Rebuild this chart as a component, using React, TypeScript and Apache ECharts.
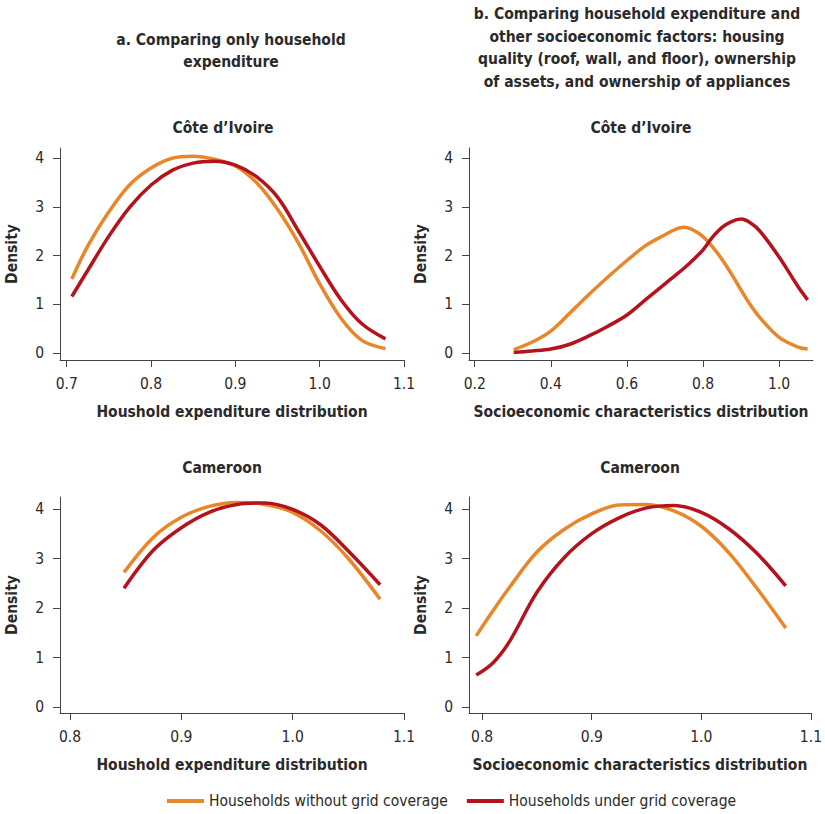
import React, { useEffect, useRef } from "react";
import * as echarts from "echarts";

const FONT = "'Liberation Sans Narrow', 'DejaVu Sans Condensed', 'Open Sans', sans-serif";
const TEXT = "#2a2a2a";
const AXIS = "#444444";
const ORANGE = "#E8862A";
const RED = "#B5121B";

const SERIES_NAMES = ["Households without grid coverage", "Households under grid coverage"];

// Panel a, Côte d'Ivoire (household expenditure)
const xCivExp = [0.706, 0.725, 0.75, 0.775, 0.8, 0.825, 0.85, 0.875, 0.9, 0.925, 0.95, 0.975, 1.0, 1.025, 1.05, 1.078];
const civExpWithout = [1.52, 2.2, 2.9, 3.46, 3.8, 4.0, 4.04, 3.98, 3.84, 3.5, 2.95, 2.25, 1.42, 0.72, 0.26, 0.09];
const civExpUnder = [1.16, 1.7, 2.4, 3.0, 3.45, 3.75, 3.9, 3.94, 3.86, 3.62, 3.2, 2.5, 1.78, 1.1, 0.6, 0.29];

// Panel b, Côte d'Ivoire (socioeconomic characteristics)
const xCivSoc = [0.3025, 0.35, 0.4, 0.45, 0.5, 0.55, 0.6, 0.65, 0.7, 0.725, 0.75, 0.775, 0.8, 0.825, 0.85, 0.875, 0.9, 0.925, 0.95, 1.0, 1.05, 1.075];
const civSocWithout = [0.07, 0.22, 0.45, 0.82, 1.2, 1.56, 1.9, 2.21, 2.43, 2.53, 2.58, 2.52, 2.39, 2.18, 1.92, 1.62, 1.29, 0.98, 0.72, 0.32, 0.12, 0.08];
const civSocUnder = [0.01, 0.04, 0.08, 0.18, 0.35, 0.55, 0.78, 1.1, 1.42, 1.58, 1.74, 1.92, 2.12, 2.38, 2.58, 2.7, 2.75, 2.67, 2.5, 1.97, 1.36, 1.09];

// Panel a, Cameroon (household expenditure)
const xCamExp = [0.8485, 0.875, 0.9, 0.925, 0.95, 0.975, 1.0, 1.025, 1.05, 1.0785];
const camExpWithout = [2.72, 3.43, 3.83, 4.05, 4.13, 4.09, 3.93, 3.56, 3.0, 2.18];
const camExpUnder = [2.4, 3.17, 3.62, 3.93, 4.09, 4.12, 3.99, 3.68, 3.15, 2.47];

// Panel b, Cameroon (socioeconomic characteristics)
const xCamSoc = [0.7946, 0.81, 0.825, 0.85, 0.875, 0.9, 0.925, 0.95, 0.975, 1.0, 1.025, 1.05, 1.077];
const camSocWithout = [1.44, 1.95, 2.42, 3.13, 3.59, 3.9, 4.08, 4.09, 3.96, 3.65, 3.12, 2.42, 1.6];
const camSocUnder = [0.65, 0.9, 1.33, 2.32, 3.02, 3.5, 3.82, 4.02, 4.07, 3.93, 3.6, 3.12, 2.45];

const yTicks = [0, 1, 2, 3, 4];
const xTicksExpCiv = [0.7, 0.8, 0.9, 1.0, 1.1];
const xTicksSocCiv = [0.2, 0.4, 0.6, 0.8, 1.0];
const xTicksCam = [0.8, 0.9, 1.0, 1.1];

const X_TITLE_EXP = "Houshold expenditure distribution";
const X_TITLE_SOC = "Socioeconomic characteristics distribution";
const Y_TITLE = "Density";

const pairs = (xs: number[], ys: number[]) => xs.map((x, i) => [x, ys[i]]);

export default function App() {
  const ref = useRef<HTMLDivElement>(null);
  useEffect(() => {
    if (!ref.current) return;
    const chart = echarts.init(ref.current, null, { renderer: "svg" });

    const grids = [
      { left: 60, top: 148, width: 344, height: 212 },
      { left: 469, top: 148, width: 344, height: 212 },
      { left: 60, top: 497, width: 344, height: 216 },
      { left: 469, top: 497, width: 344, height: 216 },
    ];
    const xCfg = [
      { min: 0.692, max: 1.1, ticks: xTicksExpCiv, name: X_TITLE_EXP },
      { min: 0.185, max: 1.089, ticks: xTicksSocCiv, name: X_TITLE_SOC },
      { min: 0.791, max: 1.1, ticks: xTicksCam, name: X_TITLE_EXP },
      { min: 0.788, max: 1.1, ticks: xTicksCam, name: X_TITLE_SOC },
    ];
    const yCfg = [
      { min: -0.144, max: 4.21 },
      { min: -0.144, max: 4.21 },
      { min: -0.115, max: 4.24 },
      { min: -0.115, max: 4.24 },
    ];

    const xAxis = xCfg.map((c, i) => ({
      type: "value",
      gridIndex: i,
      min: c.min,
      max: c.max,
      splitLine: { show: false },
      axisLine: { show: true, onZero: false, lineStyle: { color: AXIS, width: 1 } },
      axisTick: { show: true, length: 7, customValues: c.ticks, lineStyle: { color: AXIS } },
      axisLabel: {
        customValues: c.ticks,
        formatter: (v: number) => v.toFixed(1),
        fontFamily: FONT,
        fontSize: 15.5,
        color: TEXT,
        margin: 16,
      },
      name: c.name,
      nameLocation: "middle",
      nameGap: 44,
      nameTextStyle: { fontFamily: FONT, fontSize: 15.5, fontWeight: "bold", color: TEXT },
    }));
    const yAxis = yCfg.map((c, i) => ({
      type: "value",
      gridIndex: i,
      min: c.min,
      max: c.max,
      splitLine: { show: false },
      axisLine: { show: true, onZero: false, lineStyle: { color: AXIS, width: 1 } },
      axisTick: { show: true, length: 7, customValues: yTicks, lineStyle: { color: AXIS } },
      axisLabel: {
        customValues: yTicks,
        formatter: (v: number) => String(Math.round(v)),
        fontFamily: FONT,
        fontSize: 15.5,
        color: TEXT,
        margin: 16,
      },
      name: Y_TITLE,
      nameLocation: "middle",
      nameGap: 40,
      nameRotate: 90,
      nameTextStyle: { fontFamily: FONT, fontSize: 15.5, fontWeight: "bold", color: TEXT },
    }));

    const data = [
      [civExpWithout, civExpUnder, xCivExp],
      [civSocWithout, civSocUnder, xCivSoc],
      [camExpWithout, camExpUnder, xCamExp],
      [camSocWithout, camSocUnder, xCamSoc],
    ] as number[][][];
    const series: any[] = [];
    data.forEach(([w, u, xs], i) => {
      series.push({
        type: "line",
        name: SERIES_NAMES[0],
        xAxisIndex: i,
        yAxisIndex: i,
        data: pairs(xs, w),
        smooth: 0.35,
        showSymbol: false,
        symbol: "none",
        lineStyle: { color: ORANGE, width: 3.5 },
        itemStyle: { color: ORANGE },
        z: 2,
      });
      series.push({
        type: "line",
        name: SERIES_NAMES[1],
        xAxisIndex: i,
        yAxisIndex: i,
        data: pairs(xs, u),
        smooth: 0.35,
        showSymbol: false,
        symbol: "none",
        lineStyle: { color: RED, width: 3.5 },
        itemStyle: { color: RED },
        z: 3,
      });
    });

    const txt = (text: string, x: number, y: number, size = 15.5) => ({
      type: "text",
      x,
      y,
      style: {
        text,
        align: "center",
        verticalAlign: "middle",
        fontFamily: FONT,
        fontSize: size,
        fontWeight: "bold",
        fill: TEXT,
        lineHeight: 22.5,
      },
    });

    chart.setOption({
      animation: false,
      backgroundColor: "#ffffff",
      grid: grids,
      xAxis,
      yAxis,
      series,
      legend: {
        data: SERIES_NAMES,
        left: 167,
        top: 793,
        padding: 0,
        icon: "rect",
        itemWidth: 37,
        itemHeight: 4,
        itemGap: 19,
        textStyle: { fontFamily: FONT, fontSize: 15.5, color: TEXT },
      },
      graphic: [
        txt("a. Comparing only household\nexpenditure", 231, 51),
        txt(
          "b. Comparing household expenditure and\nother socioeconomic factors: housing\nquality (roof, wall, and floor), ownership\nof assets, and ownership of appliances",
          637,
          48
        ),
        txt("Côte d’Ivoire", 223, 128),
        txt("Côte d’Ivoire", 641, 128),
        txt("Cameroon", 222, 468),
        txt("Cameroon", 640, 468),
      ],
    });
    return () => chart.dispose();
  }, []);
  return (
    <div
      ref={ref}
      style={{ position: "fixed", left: 0, top: 0, width: 825, height: 814, background: "#fff" }}
    />
  );
}
